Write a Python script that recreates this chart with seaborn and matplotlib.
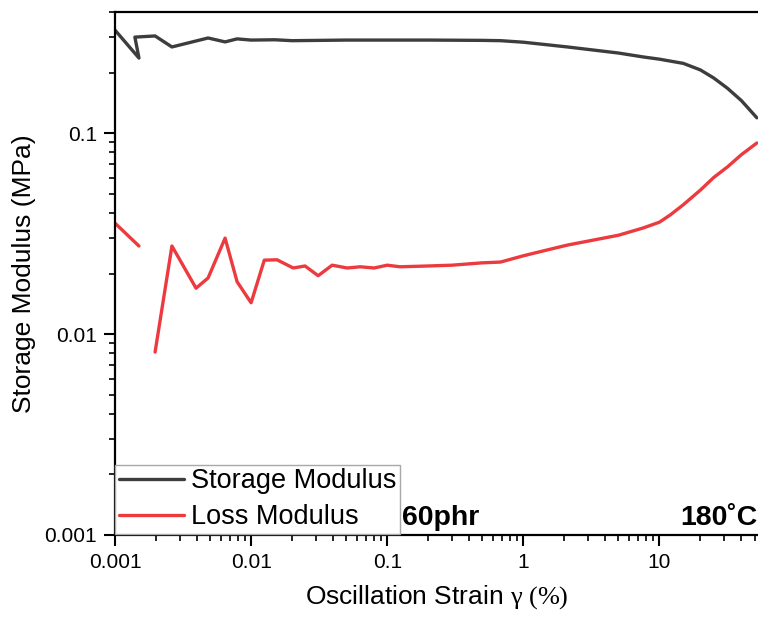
import numpy as np
import pandas as pd
import matplotlib
matplotlib.use("Agg")
import matplotlib.pyplot as plt
import seaborn as sns

# Strain sweep at 180 °C, 60 phr
storage_strain = [0.001, 0.0015, 0.0014, 0.00197, 0.00262, 0.00483, 0.00644, 0.00789,
                  0.01, 0.015, 0.02, 0.05, 0.1, 0.2, 0.5, 0.68, 1.0, 2.11, 5.0,
                  7.6, 10.0, 15.0, 20.0, 25.0, 31.6, 40.0, 52.0]
storage_modulus = [0.325, 0.236, 0.300, 0.304, 0.268, 0.297, 0.284, 0.294,
                   0.290, 0.291, 0.288, 0.290, 0.290, 0.290, 0.289, 0.288, 0.283, 0.268, 0.250,
                   0.239, 0.233, 0.222, 0.206, 0.188, 0.167, 0.145, 0.119]

loss_strain_a = [0.001, 0.0015]
loss_modulus_a = [0.0356, 0.0274]

loss_strain_b = [0.00197, 0.00262, 0.00394, 0.00483, 0.00644, 0.00789, 0.01,
                 0.0125, 0.0155, 0.0204, 0.0249, 0.0311, 0.0394, 0.0508, 0.0633,
                 0.080, 0.1, 0.124, 0.2, 0.3, 0.5, 0.68, 1.0, 1.5, 2.11, 3.0,
                 5.0, 7.6, 10.0, 12.0, 15.0, 20.0, 25.0, 31.6, 40.0, 52.0]
loss_modulus_b = [0.00813, 0.0274, 0.0169, 0.0190, 0.0300, 0.0182, 0.0143,
                  0.0233, 0.0234, 0.0213, 0.0218, 0.0195, 0.0220, 0.0213, 0.0216,
                  0.0213, 0.0220, 0.0216, 0.0218, 0.0220, 0.0226, 0.0228, 0.0245, 0.0262, 0.0277, 0.0290,
                  0.0310, 0.0337, 0.0360, 0.0391, 0.0440, 0.0520, 0.0600, 0.0678, 0.0780, 0.0892]

series_names = ["Storage Modulus", "Loss Modulus"]
series_colors = ["#3d3d3d", "#ec3a3e"]

frames = [
    pd.DataFrame({"strain": storage_strain, "modulus": storage_modulus,
                  "series": series_names[0], "segment": "s0"}),
    pd.DataFrame({"strain": loss_strain_a, "modulus": loss_modulus_a,
                  "series": series_names[1], "segment": "l0"}),
    pd.DataFrame({"strain": loss_strain_b, "modulus": loss_modulus_b,
                  "series": series_names[1], "segment": "l1"}),
]
df = pd.concat(frames, ignore_index=True)

sns.set_style("ticks")
plt.rcParams["font.family"] = ["Liberation Sans", "DejaVu Sans"]
plt.rcParams["mathtext.fontset"] = "custom"
plt.rcParams["mathtext.rm"] = "Liberation Serif"
plt.rcParams["mathtext.it"] = "Liberation Serif:italic"
for key in ["text.color", "axes.labelcolor", "xtick.color", "ytick.color"]:
    plt.rcParams[key] = "black"

fig = plt.figure(figsize=(7.58, 6.18), dpi=100)
ax = fig.add_axes([115 / 758, 83 / 618, 643 / 758, 523 / 618])

sns.lineplot(data=df, x="strain", y="modulus", hue="series", units="segment",
             estimator=None, sort=False, palette=dict(zip(series_names, series_colors)),
             linewidth=2.4, legend=False, ax=ax)

ax.set_xscale("log")
ax.set_yscale("log")
ax.set_xlim(0.001, 53)
ax.set_ylim(0.001, 0.4)

ax.set_xticks([0.001, 0.01, 0.1, 1, 10])
ax.set_xticklabels(["0.001", "0.01", "0.1", "1", "10"])
ax.set_yticks([0.001, 0.01, 0.1])
ax.set_yticklabels(["0.001", "0.01", "0.1"])

ax.tick_params(axis="both", which="major", direction="out", length=8, width=1.5,
               labelsize=15, pad=5)
ax.tick_params(axis="both", which="minor", direction="out", length=4, width=1.2)

for side in ["left", "bottom", "top"]:
    ax.spines[side].set_linewidth(1.6)
    ax.spines[side].set_color("black")
ax.spines["right"].set_visible(False)

ax.set_xlabel(r"Oscillation Strain $\mathrm{\gamma\ (\%)}$", fontsize=19, labelpad=8)
ax.set_ylabel("Storage Modulus (MPa)", fontsize=19, labelpad=6)

handles = [plt.Line2D([], [], color=c, linewidth=2.4) for c in series_colors]
leg = ax.legend(handles, series_names, loc="lower left", bbox_to_anchor=(0.0, 0.002),
                fontsize=19.5, frameon=True, fancybox=False, framealpha=1,
                edgecolor="#a8a8a8", handlelength=2.4, handletextpad=0.25,
                borderpad=0.14, labelspacing=0.36, borderaxespad=0.0)
leg.get_frame().set_linewidth(1.0)

ax.text(0.446, 0.008, "60phr", transform=ax.transAxes, fontsize=20.5,
        fontweight="bold", ha="left", va="bottom")
ax.text(1.0, 0.008, "180˚C", transform=ax.transAxes, fontsize=20.5,
        fontweight="bold", ha="right", va="bottom")

fig.savefig("out.png", dpi=100)
